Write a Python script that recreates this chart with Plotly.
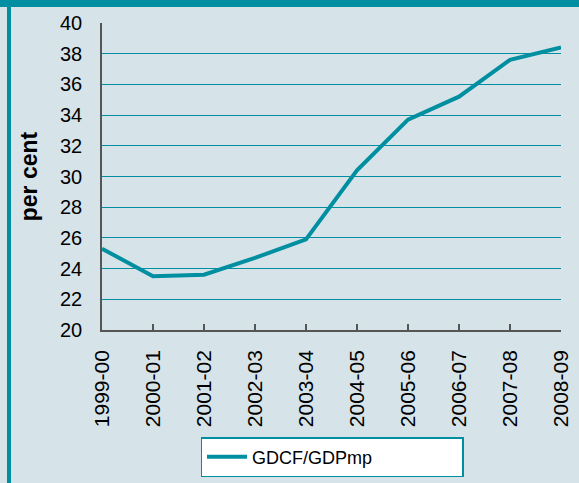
import plotly.graph_objects as go

years = ["1999-00", "2000-01", "2001-02", "2002-03", "2003-04",
         "2004-05", "2005-06", "2006-07", "2007-08", "2008-09"]
gdcf_gdp = [25.3, 23.5, 23.6, 24.7, 25.9, 30.4, 33.7, 35.2, 37.6, 38.4]

TEAL = "#008fa0"
BG = "#d6e4ea"
FONT = "Liberation Sans, Arial, sans-serif"

fig = go.Figure()
fig.add_trace(go.Scatter(
    x=list(range(len(years))), y=gdcf_gdp, mode="lines", name="GDCF/GDPmp",
    line=dict(color=TEAL, width=4),
))

L, R, T, B = 102, 18, 23, 153
W, H = 579, 483
pw, ph = W - L - R, H - T - B

def px_x(p):
    return (p - L) / pw

def px_y(p):
    return (H - B - p) / ph

fig.update_layout(
    width=W, height=H,
    margin=dict(l=L, r=R, t=T, b=B, autoexpand=False),
    paper_bgcolor=BG, plot_bgcolor=BG,
    font=dict(family=FONT, size=20, color="#000000"),
    showlegend=True,
    legend=dict(
        orientation="h", x=px_x(332), xanchor="center", y=px_y(437), yanchor="top",
        bgcolor="#ffffff", bordercolor=TEAL, borderwidth=1.5,
        font=dict(size=18, family=FONT), entrywidth=205, itemwidth=40,
        valign="middle",
    ),
    xaxis=dict(
        range=[0, 9], tickmode="array", tickvals=list(range(len(years))), ticktext=years,
        tickangle=-90, showgrid=False, zeroline=False, automargin=False,
        showline=True, linecolor="#555555", linewidth=1.5,
        ticks="inside", ticklen=6, tickcolor="#555555", tickwidth=1.5,
        ticklabelstandoff=10, tickfont=dict(size=21),
    ),
    yaxis=dict(
        range=[20, 40], dtick=2, showgrid=True, gridcolor=TEAL, gridwidth=1,
        zeroline=False, showline=True, linecolor="#555555", linewidth=1.5,
        automargin=False,
        ticks="", ticklabelstandoff=14, tickfont=dict(size=20),
        title=dict(text="<b>per cent</b>", font=dict(size=23), standoff=16),
    ),
    shapes=[
        dict(type="rect", xref="paper", yref="paper", x0=px_x(0), x1=px_x(W),
             y0=px_y(7), y1=px_y(0), fillcolor=TEAL, line=dict(width=0), layer="below"),
        dict(type="rect", xref="paper", yref="paper", x0=px_x(7), x1=px_x(11),
             y0=px_y(H), y1=px_y(0), fillcolor=TEAL, line=dict(width=0), layer="below"),
    ],
)

fig.write_html("out.html", config={"displayModeBar": False},
               post_script="document.body.style.margin='0';document.body.style.padding='0';")
